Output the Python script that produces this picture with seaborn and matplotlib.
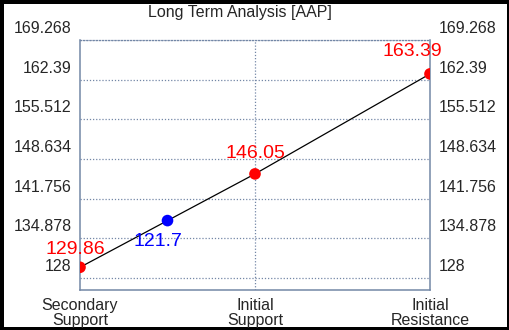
import numpy as np
import matplotlib.pyplot as plt
import matplotlib.transforms as mtrans
import seaborn as sns
import pandas as pd

# chart values
levels = ['Secondary\nSupport', 'Initial\nSupport', 'Initial\nResistance']
level_pos = [0, 1, 2]
level_vals = [129.86, 146.05, 163.39]
price_pos = 0.5
price_plot = 137.955   # drawn on the line between the two supports
price_label = '121.7'
yticks = [128, 134.878, 141.756, 148.634, 155.512, 162.39, 169.268]
ytick_labels = ['128', '134.878', '141.756', '148.634', '155.512', '162.39', '169.268']

df = pd.DataFrame({'pos': level_pos, 'val': level_vals})

sns.set_style('white')
plt.rcParams['font.family'] = ['Liberation Sans', 'DejaVu Sans']

fig = plt.figure(figsize=(5.1, 3.3), dpi=100)
fig.patch.set_edgecolor('black')
fig.patch.set_linewidth(5)
ax = fig.add_axes([80 / 510, 40 / 330, 350 / 510, 250 / 330])

frame = '#7387a6'
sns.lineplot(data=df, x='pos', y='val', color='black', linewidth=0.9, ax=ax)
sns.scatterplot(data=df, x='pos', y='val', color='red', s=70, edgecolor='none', zorder=5, ax=ax)
sns.scatterplot(x=[price_pos], y=[price_plot], color='blue', s=70, edgecolor='none', zorder=5, ax=ax)

ax.set_xlim(0, 2)
ax.set_ylim(125.92, 169.268)
ax.set_xlabel('')
ax.set_ylabel('')

ax.set_yticks(yticks)
ax.set_yticklabels(ytick_labels, fontsize=11.5)
ax.set_xticks(level_pos)
ax.set_xticklabels(levels, fontsize=11.5, linespacing=0.95)
ax.tick_params(axis='both', length=0)
ax.tick_params(axis='x', pad=6)
ax.tick_params(axis='y', pad=6)

ax.grid(True, axis='y', color=frame, linestyle=(0, (1, 1.5)), linewidth=0.9)
ax.axvline(1, color=frame, linestyle=(0, (1, 1.5)), linewidth=0.9, zorder=0)

for side in ['left', 'right', 'bottom']:
    ax.spines[side].set_color(frame)
    ax.spines[side].set_linewidth(1.1)
ax.spines['top'].set_color(frame)
ax.spines['top'].set_linestyle((0, (1, 1.5)))
ax.spines['top'].set_linewidth(0.9)

ax2 = ax.twinx()
ax2.set_ylim(ax.get_ylim())
ax2.set_yticks(yticks)
ax2.set_yticklabels(ytick_labels, fontsize=11.5)
ax2.tick_params(axis='y', length=0, pad=6)
for s in ax2.spines.values():
    s.set_visible(False)

# tick labels sit above their gridlines
shift = mtrans.ScaledTranslation(0, 13 / 100, fig.dpi_scale_trans)
for lab in ax.get_yticklabels() + ax2.get_yticklabels():
    lab.set_transform(lab.get_transform() + shift)

# value labels
ax.annotate(f'{level_vals[0]:.2f}', (level_pos[0], level_vals[0]), xytext=(-5, 18),
            textcoords='offset pixels', ha='center', va='center', color='red', fontsize=14)
ax.annotate(f'{level_vals[1]:.2f}', (level_pos[1], level_vals[1]), xytext=(0, 20),
            textcoords='offset pixels', ha='center', va='center', color='red', fontsize=14)
ax.annotate(f'{level_vals[2]:.2f}', (level_pos[2], level_vals[2]), xytext=(-18, 22),
            textcoords='offset pixels', ha='center', va='center', color='red', fontsize=14)
ax.annotate(price_label, (price_pos, price_plot), xytext=(-10, -21),
            textcoords='offset pixels', ha='center', va='center', color='blue', fontsize=14)

fig.text(240 / 510, 1 - 12 / 330, 'Long Term Analysis [AAP]', ha='center', va='center', fontsize=11.5)

fig.savefig('out.png', dpi=100, edgecolor=fig.get_edgecolor())
